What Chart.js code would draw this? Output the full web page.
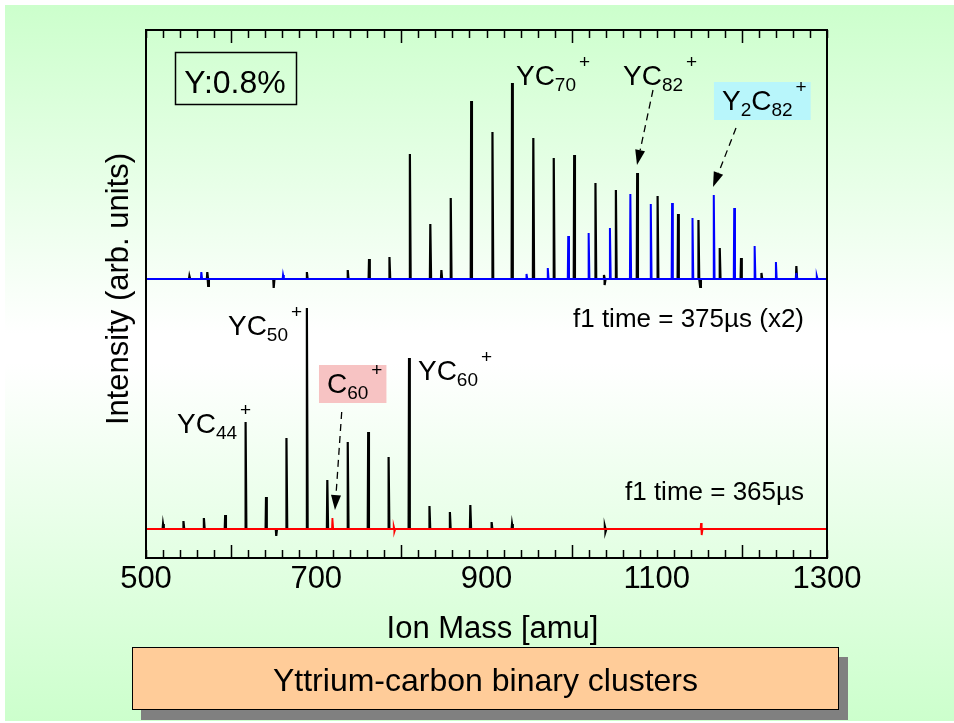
<!DOCTYPE html>
<html>
<head>
<meta charset="utf-8">
<script src="https://cdn.jsdelivr.net/npm/chart.js@4.4.1/dist/chart.umd.min.js"></script>
<style>
  html, body { margin: 0; padding: 0; background: #fff; }
  #bg { position: absolute; left: 5px; top: 5px; width: 949px; height: 716px;
        background: linear-gradient(#ccffcc 0%, #ffffff 46%, #ffffff 50%, #ccffcc 100%); }
  #wrap { position: absolute; left: 0; top: 0; width: 954px; height: 723px; }
</style>
</head>
<body>
<div id="bg"></div>
<div id="wrap"><canvas id="spec" width="954" height="723"></canvas></div>
<script>
// --- axis ---
const xTickLabels = [500, 700, 900, 1100, 1300];
const majorTickMarks = [600, 800, 1000, 1200];

// --- lower spectrum (f1 time = 365 us) : YCn+ (black) and Cn+ (red) ---
const lowMass   = [520, 544, 568, 593, 617, 641, 653, 665, 689, 713, 737, 761, 785, 809, 833, 857, 881, 906, 930, 1039, 1040];
const lowHeight = [5, 8, 11, 14, 107, 32, -7, 91, 221, 49, 87, 97, 72, 171, 23, 17, 24, 7, 5, 3, -3];
const cMass     = [719, 791, 792, 1152, 1153];
const cHeight   = [11, 3, -3, 6, -6];

// --- upper spectrum (f1 time = 375 us, x2) : YCn+ (black) and Y2Cn+ (blue) ---
const upMass   = [551, 572, 573, 650, 689, 737, 762, 786, 810, 834, 847, 858, 882, 907, 930, 955, 979, 1003, 1028, 1038, 1039, 1052, 1077, 1101, 1125, 1149, 1151, 1174, 1199, 1223, 1264];
const upHeight = [3, 7, -7, -9, 7, 9, 20, 22, 125, 55, 9, 81, 178, 147, 196, 141, 121, 124, 96, 4, -6, 89, 106, 83, 65, 59, -8, 31, 21, 6, 13];
const y2Mass   = [565, 661, 947, 972, 996, 1020, 1045, 1069, 1093, 1118, 1142, 1167, 1191, 1215, 1240, 1264, 1288];
const y2Height = [7, 4, 5, 11, 43, 46, 51, 85, 75, 76, 61, 84, 71, 33, 17, 6, 3];

const lowBase = 0;
const upBase = 250;

const FONT = '"Liberation Sans", Arial, sans-serif';

// one spike per peak on a flat baseline
function spectrum(masses, heights, base) {
    const pts = [{ x: 500, y: base }];
    masses.forEach((m, i) => {
        pts.push({ x: m - 0.5, y: base }, { x: m, y: base + heights[i] }, { x: m + 0.9, y: base });
    });
    pts.push({ x: 1300, y: base });
    return pts;
}

// labels: anchor is baseline-left of the text, in data units
const ionLabels = [
    { parts: [['YC'], ['70', 'sub'], ['+', 'sup']], mass: 934.6, value: 444 },
    { parts: [['YC'], ['82', 'sub'], ['+', 'sup']], mass: 1060.4, value: 444 },
    { parts: [['Y'], ['2', 'sub'], ['C'], ['82', 'sub'], ['+', 'sup']], mass: 1176.6, value: 419, bg: '#b8f6fb' },
    { parts: [['YC'], ['50', 'sub'], ['+', 'sup']], mass: 596.3, value: 194 },
    { parts: [['YC'], ['44', 'sub'], ['+', 'sup']], mass: 536.4, value: 96 },
    { parts: [['YC'], ['60', 'sub'], ['+', 'sup']], mass: 819.5, value: 149 },
    { parts: [['C'], ['60', 'sub'], ['+', 'sup']], mass: 712.6, value: 136, bg: '#f7c3c3' }
];
const arrows = [
    { from: [1095.6, 439], to: [1076.8, 364] },
    { from: [1193.1, 401], to: [1166.1, 342] },
    { from: [729.9, 117], to: [722, 19] }
];

function drawIon(ctx, parts, x, y) {
    parts.forEach(([txt, kind]) => {
        let size = 28, dy = 0;
        if (kind === 'sub') { size = 19; dy = 6; }
        if (kind === 'sup') { size = 19; dy = -17; x += 3; }
        ctx.font = size + 'px ' + FONT;
        ctx.fillText(txt, x, y + dy);
        x += ctx.measureText(txt).width;
    });
    return x;
}

function ionWidth(ctx, parts) {
    let w = 0;
    parts.forEach(([txt, kind]) => {
        ctx.font = (kind ? 19 : 28) + 'px ' + FONT;
        w += ctx.measureText(txt).width + (kind === 'sup' ? 3 : 0);
    });
    return w;
}

function dashedArrow(ctx, x1, y1, x2, y2) {
    const ang = Math.atan2(y2 - y1, x2 - x1);
    const hl = 15, hw = 5;
    const bx = x2 - hl * Math.cos(ang), by = y2 - hl * Math.sin(ang);
    ctx.setLineDash([7, 5]);
    ctx.lineWidth = 1.3;
    ctx.beginPath();
    ctx.moveTo(x1, y1);
    ctx.lineTo(bx, by);
    ctx.stroke();
    ctx.setLineDash([]);
    ctx.beginPath();
    ctx.moveTo(x2, y2);
    ctx.lineTo(bx + hw * Math.sin(ang), by - hw * Math.cos(ang));
    ctx.lineTo(bx - hw * Math.sin(ang), by + hw * Math.cos(ang));
    ctx.closePath();
    ctx.fill();
}

const decor = {
    id: 'decor',
    afterDraw(chart) {
        const { ctx, chartArea: a, scales: { x, y } } = chart;
        ctx.save();
        ctx.fillStyle = '#000';
        ctx.strokeStyle = '#000';

        // frame
        ctx.lineWidth = 2;
        ctx.strokeRect(a.left, a.top, a.right - a.left, a.bottom - a.top);

        // inward tick marks, top and bottom
        ctx.lineWidth = 1.5;
        x.ticks.forEach(t => {
            const px = Math.round(x.getPixelForValue(t.value)) + 0.5;
            const len = majorTickMarks.includes(Math.round(t.value)) ? 13 : 8;
            ctx.beginPath();
            ctx.moveTo(px, a.top);
            ctx.lineTo(px, a.top + len);
            ctx.moveTo(px, a.bottom);
            ctx.lineTo(px, a.bottom - len);
            ctx.stroke();
        });

        // ion labels
        ctx.textBaseline = 'alphabetic';
        ctx.textAlign = 'left';
        ionLabels.forEach(l => {
            const lx = x.getPixelForValue(l.mass), ly = y.getPixelForValue(l.value);
            if (l.bg) {
                const w = ionWidth(ctx, l.parts);
                ctx.fillStyle = l.bg;
                ctx.fillRect(lx - 8, ly - 28, w + 12, 38);
                ctx.fillStyle = '#000';
            }
            drawIon(ctx, l.parts, lx, ly);
        });
        arrows.forEach(r => {
            dashedArrow(ctx, x.getPixelForValue(r.from[0]), y.getPixelForValue(r.from[1]),
                x.getPixelForValue(r.to[0]), y.getPixelForValue(r.to[1]));
        });

        // Y:0.8% box
        ctx.lineWidth = 1.5;
        ctx.strokeRect(a.left + 29.5, a.top + 22.5, 121, 52);
        ctx.font = '32px ' + FONT;
        ctx.textAlign = 'center';
        ctx.fillText('Y:0.8%', a.left + 89, a.top + 63);

        // time notes
        ctx.textAlign = 'right';
        ctx.font = '26px ' + FONT;
        ctx.fillText('f1 time = 375\u00b5s (x2)', a.right - 23, y.getPixelForValue(202));
        ctx.fillText('f1 time = 365\u00b5s', a.right - 23, y.getPixelForValue(29));

        // axis titles
        ctx.textAlign = 'center';
        ctx.font = '31px ' + FONT;
        ctx.fillText('Ion Mass [amu]', (a.left + a.right) / 2 + 6, a.bottom + 80);
        ctx.save();
        ctx.translate(128, 289);
        ctx.rotate(-Math.PI / 2);
        ctx.fillText('Intensity (arb. units)', 0, 0);
        ctx.restore();

        // caption box
        ctx.fillStyle = '#808080';
        ctx.fillRect(141, 657, 707, 63);
        ctx.fillStyle = '#ffcc99';
        ctx.fillRect(132, 647, 707, 63);
        ctx.lineWidth = 1;
        ctx.strokeRect(132.5, 647.5, 706, 62);
        ctx.fillStyle = '#000';
        ctx.font = '32px ' + FONT;
        ctx.fillText('Yttrium-carbon binary clusters', 485.5, 691);
        ctx.restore();
    }
};

new Chart(document.getElementById('spec'), {
    type: 'line',
    data: {
        datasets: [
            { data: spectrum(cMass, cHeight, lowBase), borderColor: '#ff0000', borderWidth: 1.8 },
            { data: spectrum(y2Mass, y2Height, upBase), borderColor: '#0000ff', borderWidth: 2 },
            { data: spectrum(lowMass, lowHeight, lowBase), borderColor: '#000000', borderWidth: 2.2 },
            { data: spectrum(upMass, upHeight, upBase), borderColor: '#000000', borderWidth: 2.2 }
        ]
    },
    options: {
        responsive: false,
        animation: false,
        parsing: false,
        elements: { point: { radius: 0 }, line: { tension: 0 } },
        layout: { padding: { left: 146, right: 127, top: 30, bottom: 0 } },
        plugins: { legend: { display: false }, tooltip: { enabled: false } },
        scales: {
            x: {
                type: 'linear', min: 500, max: 1300,
                grid: { display: false, drawTicks: false },
                border: { display: false },
                ticks: {
                    stepSize: 20, autoSkip: false, maxRotation: 0, padding: 3, color: '#000',
                    font: { family: FONT, size: 31 },
                    callback: v => xTickLabels.includes(Math.round(v)) ? String(Math.round(v)) : ''
                },
                afterFit: s => { s.height = 165; }
            },
            y: { display: false, min: -29, max: 499 }
        }
    },
    plugins: [decor]
});
</script>
</body>
</html>
